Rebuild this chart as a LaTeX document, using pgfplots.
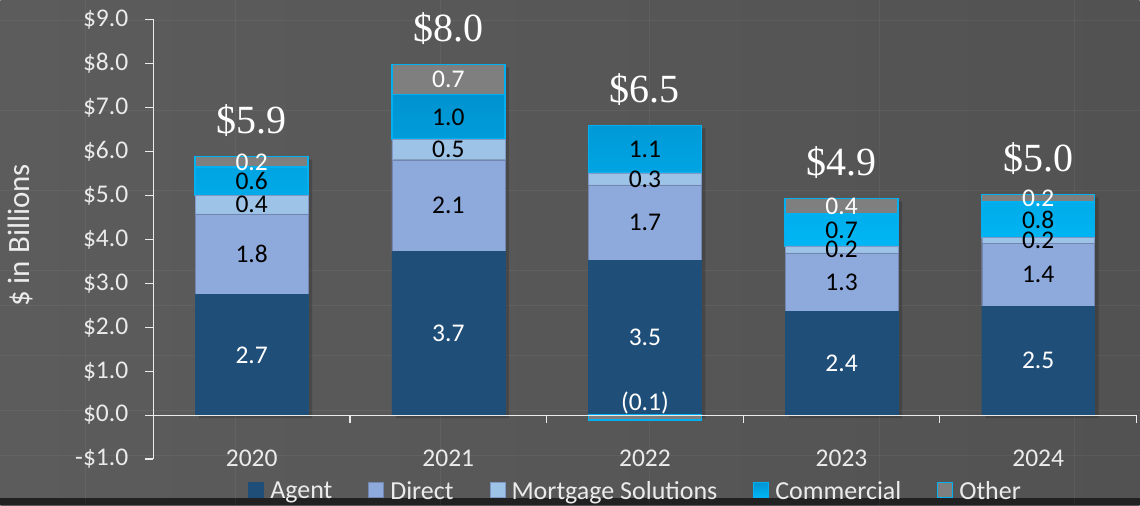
\documentclass[border=0pt]{standalone}
\usepackage{pgfplots}
\pgfplotsset{compat=1.18}
\usepackage{pgfplotstable}
\usepackage{fontspec}
\setmainfont{Carlito}
\newfontfamily\totalfont{Liberation Serif}
\definecolor{bgl}{HTML}{5C5C5C}
\definecolor{bgr}{HTML}{525252}
\definecolor{agent}{HTML}{1F4E79}
\definecolor{direct}{HTML}{8EA9DB}
\definecolor{mortgage}{HTML}{9DC3E6}
\definecolor{commtop}{HTML}{0092D0}
\definecolor{commbot}{HTML}{00B6F4}
\definecolor{cyanb}{HTML}{00B0F0}
\definecolor{other}{HTML}{7F7F7F}
\definecolor{txt}{HTML}{EBEBEB}

\pgfplotstableread{
x agent direct mortgage commercial other
0 2.74 1.84 0.42 0.64 0.24
1 3.72 2.09 0.47 1.01 0.69
2 3.52 1.72 0.27 1.08 0.00
3 2.36 1.33 0.16 0.72 0.36
4 2.48 1.42 0.15 0.80 0.17
}\segdata

\begin{document}
\begin{tikzpicture}[x=1pt,y=1pt]
\shade[left color=bgl, right color=bgr] (0,0) rectangle (1140,505);
\fill[black!60!bgr] (0,0) rectangle (1140,7);
% faint texture lines
\begin{scope}[white, opacity=0.05, line width=1pt]
\foreach \yy in {485,395,315,235,200,150,95,50} \draw (0,\yy) -- (1140,\yy);
\foreach \xx in {85,235,440,650,880,1075} \draw (\xx,0) -- (\xx,505);
\end{scope}
\useasboundingbox (0,0) rectangle (1140,505);

% bar shadows (from totals)
\begin{axis}[
  at={(153pt,46pt)}, anchor=south west,
  scale only axis, width=984pt, height=440pt,
  xmin=-0.5, xmax=4.5, ymin=-1, ymax=9,
  hide axis, clip=false,
]
\addplot[ybar, bar width=113pt, bar shift=4pt, fill=black, draw=none, opacity=0.18, yshift=-3pt]
  coordinates {(0,5.88) (1,7.98) (2,6.59) (3,4.93) (4,5.02)};
\end{axis}

\begin{axis}[
  at={(153pt,46pt)}, anchor=south west,
  scale only axis, width=984pt, height=440pt,
  xmin=-0.5, xmax=4.5, ymin=-1, ymax=9,
  ybar stacked, bar width=113pt,
  axis y line*=left, axis x line*=bottom,
  x axis line style={draw=none},
  y axis line style={draw=txt, line width=1.2pt, -},
  xtick={0,1,2,3,4}, xticklabels={2020,2021,2022,2023,2024},
  x tick style={draw=none},
  xticklabel style={anchor=center, yshift=9pt, text=txt, font=\fontsize{25.5}{30}\selectfont},
  ytick={-1,0,1,2,3,4,5,6,7,8,9},
  yticklabels={-\$1.0,\$0.0,\$1.0,\$2.0,\$3.0,\$4.0,\$5.0,\$6.0,\$7.0,\$8.0,\$9.0},
  y tick style={draw=txt, line width=1.2pt},
  tick align=outside, major tick length=8pt,
  yticklabel style={anchor=east, inner sep=0pt, xshift=-17pt, text=txt, font=\fontsize{25.5}{30}\selectfont},
  ylabel={\$ in Billions},
  ylabel style={at={(axis description cs:-0.1352,0.509)}, anchor=center, text=txt, font=\fontsize{31}{36}\selectfont},
  legend style={at={(0.4905,-0.0727)}, anchor=center, draw=none, fill=none,
    legend columns=-1, text=txt, font=\fontsize{26}{30}\selectfont,
    /tikz/every odd column/.append style={column sep=4pt},
    /tikz/every even column/.append style={column sep=34pt}},
  legend image code/.code={\draw[#1, line width=1pt] (0pt,-6pt) rectangle (15pt,9pt);},
]
\addplot[fill=agent, draw=agent] table[x=x,y=agent]{\segdata};
\addplot[fill=direct, draw=direct!80!black] table[x=x,y=direct]{\segdata};
\addplot[fill=mortgage, draw=direct!90!black] table[x=x,y=mortgage]{\segdata};
\addplot[top color=commtop, bottom color=commbot, draw=cyanb, line width=1.5pt] table[x=x,y=commercial]{\segdata};
\addplot[fill=other, draw=cyanb, line width=1.5pt] table[x=x,y=other]{\segdata};
\legend{Agent,Direct,Mortgage Solutions,Commercial,Other}
\end{axis}

\begin{axis}[
  at={(153pt,46pt)}, anchor=south west,
  scale only axis, width=984pt, height=440pt,
  xmin=-0.5, xmax=4.5, ymin=-1, ymax=9,
  hide axis, clip=false,
]
\addplot[ybar, bar width=113pt, bar shift=0pt, fill=other, draw=cyanb, line width=1.5pt] coordinates {(2,-0.11)};
\draw[txt, line width=1.2pt] (axis cs:-0.5,0) -- (axis cs:4.5,0);
\pgfplotsinvokeforeach{0.5,1.5,2.5,3.5,4.5}{\draw[txt, line width=1.2pt] (axis cs:#1,0) -- (axis cs:#1,-0.18);}
% white segment labels
\addplot[draw=none, mark=none, nodes near coords, nodes near coords align={center},
  point meta=explicit symbolic,
  every node near coord/.append style={anchor=center, text=white, font=\fontsize{25.5}{30}\selectfont}]
  coordinates {
  (0,1.37)[2.7] (1,1.86)[3.7] (2,1.76)[3.5] (3,1.18)[2.4] (4,1.24)[2.5]
  (0,5.76)[0.2] (1,7.635)[0.7] (3,4.75)[0.4] (4,4.935)[0.2]
  (2,0.28)[(0.1)]
  };
% black segment labels
\addplot[draw=none, mark=none, nodes near coords, nodes near coords align={center},
  point meta=explicit symbolic,
  every node near coord/.append style={anchor=center, text=black, font=\fontsize{25.5}{30}\selectfont}]
  coordinates {
  (0,3.66)[1.8] (1,4.765)[2.1] (2,4.38)[1.7] (3,3.025)[1.3] (4,3.19)[1.4]
  (0,4.79)[0.4] (1,6.045)[0.5] (2,5.375)[0.3] (3,3.77)[0.2] (4,3.975)[0.2]
  (0,5.32)[0.6] (1,6.785)[1.0] (2,6.05)[1.1] (3,4.21)[0.7] (4,4.45)[0.8]
  };
% totals
\addplot[draw=none, mark=none, nodes near coords, nodes near coords align={center},
  point meta=explicit symbolic,
  every node near coord/.append style={anchor=center, yshift=36pt, text=white, font=\totalfont\fontsize{40}{46}\selectfont}]
  coordinates {
  (0,5.88)[\$5.9] (1,7.98)[\$8.0] (2,6.59)[\$6.5] (3,4.93)[\$4.9] (4,5.02)[\$5.0]
  };
\end{axis}
\end{tikzpicture}
\end{document}
